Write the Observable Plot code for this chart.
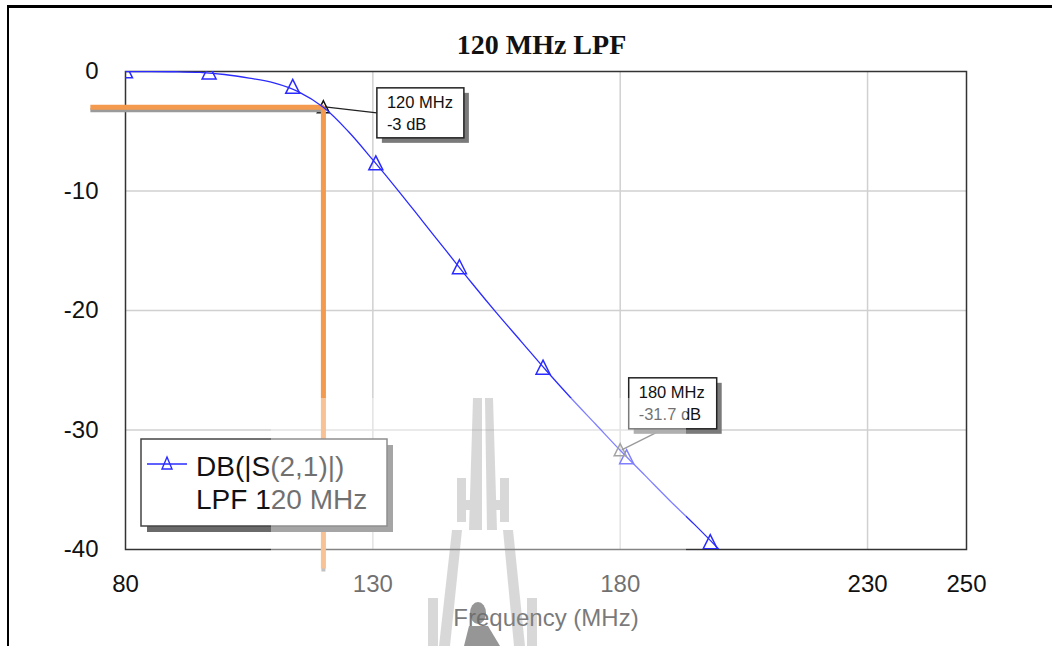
<!DOCTYPE html>
<html><head><meta charset="utf-8">
<script src="https://cdn.jsdelivr.net/npm/d3@7"></script>
<script src="https://cdn.jsdelivr.net/npm/@observablehq/plot@0.6"></script>
<style>
body{margin:0;background:#fff;}
#wrap{position:relative;width:1052px;height:646px;overflow:hidden;background:#fff;font-family:"Liberation Sans",Arial,sans-serif;}
#wrap svg{position:absolute;left:0;top:0;}
.lbl{position:absolute;white-space:nowrap;}
</style></head><body><div id="wrap"></div>
<script>
// ---- data ----
const freqMHz = [80,85,90,95,100,105,110,115,120,125,130,135,140,145,150,155,160,165,170,175,180,185,190,195,200];
const s21dB   = [0,0,-0.02,-0.08,-0.25,-0.55,-0.95,-1.7,-3.0,-5.0,-7.4,-9.9,-12.5,-15.1,-17.7,-20.2,-22.6,-25.0,-27.3,-29.5,-31.7,-33.8,-35.9,-37.9,-40.0];
const markerFreqMHz = [80,96.9,113.8,130.6,147.5,164.4,181.3,198.2];
const markerDB      = [0,-0.1,-1.3,-7.7,-16.4,-24.8,-32.3,-39.4];
const xTicks = [80,130,180,230,250];
const yTicks = [0,-10,-20,-30,-40];
const gridX = [130,180,230];
const gridY = [-10,-20,-30];
const noteFreq = [120,180];
const noteDB = [-3,-31.7];
const noteLine1 = ["120 MHz","180 MHz"];
const noteLine2 = ["-3 dB","-31.7 dB"];
const guideFreq = [72.9,120,120];
const guideDB = [-3,-3,-41.6];
const titleText = "120 MHz LPF";
const xLabel = "Frequency (MHz)";
const legendLines = ["DB(|S(2,1)|)","LPF 120 MHz"];

// ---- chart ----
const curve = freqMHz.map((f,i)=>({f, db:s21dB[i]}));
const markers = markerFreqMHz.map((f,i)=>({f, db:markerDB[i]}));
const notes = noteFreq.map((f,i)=>({f, db:noteDB[i]}));
const guide = guideFreq.map((f,i)=>({f, db:guideDB[i]}));
const tri = {draw(ctx,size){const r=Math.sqrt(size/Math.PI);ctx.moveTo(0,-1.1*r);ctx.lineTo(r,0.9*r);ctx.lineTo(-r,0.9*r);ctx.closePath();}};
const blue = "#2b2bff";
const fmt = d=>String(d);

const plot = Plot.plot({
  width:1052, height:646,
  marginLeft:125, marginRight:86, marginTop:71, marginBottom:97,
  style:{fontFamily:"Liberation Sans, Arial, sans-serif", background:"transparent", overflow:"visible"},
  x:{domain:[80,250]},
  y:{domain:[-40,0]},
  marks:[
    Plot.ruleX(gridX,{stroke:"#d0d0d0",strokeWidth:1.5}),
    Plot.ruleY(gridY,{stroke:"#d0d0d0",strokeWidth:1.5}),
    Plot.frame({stroke:"#333",strokeWidth:1.5}),
    Plot.axisX({ticks:xTicks,tickSize:0,tickPadding:25,fontSize:24,tickFormat:fmt,fill:"#111",label:null}),
    Plot.axisY({ticks:yTicks,tickSize:0,tickPadding:27,fontSize:24,tickFormat:fmt,fill:"#111",label:null}),
    Plot.dot(notes.slice(0,1),{x:"f",y:"db",symbol:tri,r:6,stroke:"#111",strokeWidth:1.5,fill:"none"}),
    Plot.line(guide,{x:"f",y:"db",stroke:"#9a9a9a",strokeWidth:4,dy:3,strokeLinejoin:"miter",strokeLinecap:"butt"}),
    Plot.line(guide,{x:"f",y:"db",stroke:"#f39a4f",strokeWidth:5,strokeLinejoin:"miter",strokeLinecap:"butt"}),
    Plot.line(curve,{x:"f",y:"db",stroke:blue,strokeWidth:1.3,curve:"catmull-rom",clip:true}),
    Plot.dot(markers,{x:"f",y:"db",symbol:tri,r:7,stroke:blue,strokeWidth:1.5,fill:"none",clip:true}),
    Plot.dot(notes.slice(1),{x:"f",y:"db",symbol:tri,r:6,stroke:"#666",strokeWidth:1.5,fill:"none"})
  ]
});
const wrap = document.getElementById("wrap");
wrap.appendChild(plot);

const sx = plot.scale("x"), sy = plot.scale("y");
const svg = d3.select(plot);

// annotation boxes
const boxDx=[54,9], boxDy=[-19,-72], boxW=[87,88], boxH=[50,51];
const leadX=[0,35], leadY=[25,51];
const g = svg.append("g").attr("text-anchor","start");
notes.forEach((n,i)=>{
  const ax=sx.apply(n.f), ay=sy.apply(n.db);
  const bx=ax+boxDx[i], by=ay+boxDy[i];
  g.append("line").attr("x1",ax+2).attr("y1",ay).attr("x2",bx+leadX[i]).attr("y2",by+leadY[i]).attr("stroke",i?"#555":"#222").attr("stroke-width",1.3);
  g.append("rect").attr("x",bx+5).attr("y",by+5).attr("width",boxW[i]).attr("height",boxH[i]).attr("fill","#7a7a7a");
  g.append("rect").attr("x",bx).attr("y",by).attr("width",boxW[i]).attr("height",boxH[i]).attr("fill","#fff").attr("stroke","#222").attr("stroke-width",1.5);
  g.append("text").attr("x",bx+10).attr("y",by+14).attr("dy","0.35em").attr("font-size",16.5).attr("fill","#111").text(noteLine1[i]);
  g.append("text").attr("x",bx+10).attr("y",by+36).attr("dy","0.35em").attr("font-size",16.5).attr("fill","#111").text(noteLine2[i]);
});

// legend
const lg = svg.append("g").attr("text-anchor","start");
lg.append("rect").attr("x",147).attr("y",445).attr("width",246).attr("height",87).attr("fill","#6a6a6a");
lg.append("rect").attr("x",141).attr("y",439).attr("width",246).attr("height",87).attr("fill","#fff").attr("stroke","#444").attr("stroke-width",1.5);
lg.append("line").attr("x1",147).attr("x2",187).attr("y1",464).attr("y2",464).attr("stroke",blue).attr("stroke-width",1.3);
lg.append("path").attr("d","M167,457L172,469L162,469Z").attr("fill","none").attr("stroke",blue).attr("stroke-width",1.4);
lg.append("text").attr("x",196).attr("y",466).attr("dy","0.35em").attr("font-size",28).attr("fill","#111").text(legendLines[0]);
lg.append("text").attr("x",196).attr("y",499).attr("dy","0.35em").attr("font-size",28).attr("fill","#111").text(legendLines[1]);

// title and x label
const t = document.createElement("div");
t.className="lbl"; t.textContent=titleText;
Object.assign(t.style,{left:"0",width:"1083px",textAlign:"center",top:"31px",fontFamily:"'Liberation Serif','Times New Roman',serif",fontWeight:"bold",fontSize:"28px",lineHeight:"28px",color:"#111"});
wrap.appendChild(t);
const xl = document.createElement("div");
xl.className="lbl"; xl.textContent=xLabel;
Object.assign(xl.style,{left:"0",width:"1092px",textAlign:"center",top:"605px",fontSize:"24px",lineHeight:"26px",color:"#222"});
wrap.appendChild(xl);

// page border and faint watermark overlay
const ov = d3.select(wrap).append("svg").attr("width",1052).attr("height",646).style("pointer-events","none");
ov.append("rect").attr("x",271).attr("y",398).attr("width",415).attr("height",248).attr("fill","#fff").attr("opacity",0.4);
const wm = ov.append("g").attr("fill","#8c8c8c").attr("opacity",0.33);
[
 "M473,398L482,398L482,530L469,530Z",
 "M485,398L493,398L497,530L487,530Z",
 "M457,478L466,478L466,522L457,522Z",
 "M500,478L509,478L509,522L500,522Z",
 "M466,500L470,500L470,510L466,510Z",
 "M496,500L500,500L500,510L496,510Z",
 "M452,530L462,530L450,646L439,646Z",
 "M503,530L513,530L525,646L514,646Z",
 "M428,598L438,598L438,646L428,646Z",
 "M527,598L537,598L537,646L527,646Z"
].forEach(d=>wm.append("path").attr("d",d));
const bust = ov.append("g").attr("fill","#6a6a6a").attr("opacity",0.7);
bust.append("ellipse").attr("cx",478).attr("cy",613).attr("rx",8).attr("ry",11);
bust.append("path").attr("d","M464,646L469,626L488,626L500,646Z");
ov.append("line").attr("x1",7).attr("x2",1052).attr("y1",6.5).attr("y2",6.5).attr("stroke","#000").attr("stroke-width",3);
ov.append("line").attr("x1",8).attr("x2",8).attr("y1",5).attr("y2",646).attr("stroke","#000").attr("stroke-width",2);
</script></body></html>
